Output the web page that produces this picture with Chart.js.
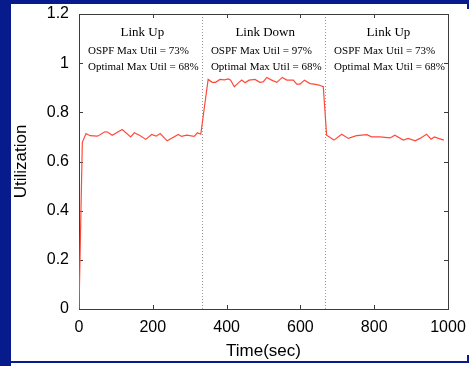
<!DOCTYPE html>
<html>
<head>
<meta charset="utf-8">
<title>Utilization</title>
<script src="https://cdn.jsdelivr.net/npm/chart.js@4/dist/chart.umd.min.js"></script>
<style>
  body { margin: 0; background: #071b8c; width: 469px; height: 366px; overflow: hidden; position: relative; }
  .panel { position: absolute; left: 11px; top: 4px; width: 458px; height: 362px; background: #fff; }
  .rule { position: absolute; background: #071b8c; }
  #utilChart { position: absolute; left: 0; top: 0; }
</style>
</head>
<body>
<div class="panel"></div>
<div class="rule" style="left:11px; top:361px; width:457px; height:2px;"></div>
<div class="rule" style="left:467px; top:4px; width:2px; height:5px;"></div>
<div class="rule" style="left:467px; top:355px; width:2px; height:8px;"></div>
<canvas id="utilChart" width="469" height="366"></canvas>
<script>
// time (sec) and link utilization samples
const timeSec = [
    0, 9, 19, 30, 50, 70, 77, 90, 117, 140, 150, 165, 181, 197, 209, 220, 239, 269, 278, 292, 312, 321, 330,
    350, 361, 370, 382, 394, 405, 411, 421, 432, 441, 450, 461, 477, 490, 499, 509, 522, 536, 551, 563, 581, 590, 599, 611, 626, 637, 650, 662,
    671, 691, 712, 730, 752, 780, 793, 816, 843, 856, 879, 892, 911, 924, 942, 954, 963, 974, 989
];
const utilization = [
    0, 0.678, 0.714, 0.705, 0.703, 0.721, 0.72, 0.707, 0.73, 0.70, 0.717, 0.706, 0.69, 0.71, 0.703, 0.714, 0.684, 0.71, 0.702, 0.707, 0.702, 0.717, 0.711,
    0.934, 0.922, 0.922, 0.934, 0.932, 0.936, 0.931, 0.904, 0.92, 0.931, 0.92, 0.931, 0.934, 0.922, 0.924, 0.942, 0.931, 0.922, 0.942, 0.931, 0.931, 0.915, 0.915, 0.931, 0.917, 0.915, 0.911, 0.904,
    0.707, 0.687, 0.711, 0.694, 0.705, 0.709, 0.70, 0.70, 0.696, 0.707, 0.687, 0.694, 0.684, 0.694, 0.711, 0.691, 0.70, 0.694, 0.687
];

// phases of the experiment
const phaseStart = [0, 333, 667];
const phaseNames = ['Link Up', 'Link Down', 'Link Up'];
const ospfMaxUtil = [73, 97, 73];
const optimalMaxUtil = [68, 68, 68];

const xTicks = [0, 200, 400, 600, 800, 1000];
const yTicks = [0, 0.2, 0.4, 0.6, 0.8, 1, 1.2];

const points = timeSec.map((t, i) => ({ x: t, y: utilization[i] }));

// frame, inward ticks, phase separators and phase notes :
const framePlugin = {
    id: 'frame',
    beforeDatasetsDraw(chart) {
        const ctx = chart.ctx;
        const a = chart.chartArea;
        const xs = chart.scales.x;
        const ys = chart.scales.y;
        ctx.save();

        // dotted separators
        ctx.strokeStyle = '#9a9a9a';
        ctx.lineWidth = 1;
        ctx.setLineDash([1, 2]);
        phaseStart.slice(1).forEach(t => {
            const px = Math.round(xs.getPixelForValue(t)) + 0.5;
            ctx.beginPath();
            ctx.moveTo(px, a.top);
            ctx.lineTo(px, a.bottom);
            ctx.stroke();
        });
        ctx.setLineDash([]);

        // box
        ctx.strokeStyle = '#3c3c3c';
        ctx.strokeRect(Math.round(a.left) + 0.5, Math.round(a.top) + 0.5,
            Math.round(a.right - a.left), Math.round(a.bottom - a.top));

        // ticks on all four sides
        const len = 4;
        ctx.beginPath();
        xTicks.slice(1, -1).forEach(v => {
            const px = Math.round(xs.getPixelForValue(v)) + 0.5;
            ctx.moveTo(px, a.bottom); ctx.lineTo(px, a.bottom - len);
            ctx.moveTo(px, a.top); ctx.lineTo(px, a.top + len);
        });
        yTicks.slice(1, -1).forEach(v => {
            const py = Math.round(ys.getPixelForValue(v)) + 0.5;
            ctx.moveTo(a.left, py); ctx.lineTo(a.left + len, py);
            ctx.moveTo(a.right, py); ctx.lineTo(a.right - len, py);
        });
        ctx.stroke();

        // notes for each phase
        ctx.fillStyle = '#000';
        ctx.textBaseline = 'alphabetic';
        phaseStart.forEach((t, i) => {
            const left = xs.getPixelForValue(t) + 9;
            const line2 = 'OSPF Max Util = ' + ospfMaxUtil[i] + '%';
            const line3 = 'Optimal Max Util = ' + optimalMaxUtil[i] + '%';
            ctx.font = '11px "Liberation Serif", "Times New Roman", serif';
            const w = ctx.measureText(line3).width;
            ctx.textAlign = 'left';
            ctx.fillText(line2, left, a.top + 39.5);
            ctx.fillText(line3, left, a.top + 55.5);
            ctx.font = '13px "Liberation Serif", "Times New Roman", serif';
            ctx.textAlign = 'center';
            ctx.fillText(phaseNames[i], left + w / 2 - 1, a.top + 22);
        });
        ctx.restore();
    }
};

const sans = '"Liberation Sans", Arial, Helvetica, sans-serif';

new Chart(document.getElementById('utilChart'), {
    type: 'line',
    data: {
        datasets: [{
            data: points,
            borderColor: '#ff4a3a',
            borderWidth: 1.2,
            pointRadius: 0,
            tension: 0,
            fill: false
        }]
    },
    options: {
        responsive: false,
        animation: false,
        layout: { padding: { left: 0, right: 21, top: 14, bottom: 0 } },
        plugins: { legend: { display: false }, tooltip: { enabled: false } },
        scales: {
            x: {
                type: 'linear',
                min: 0,
                max: 1000,
                afterFit: scale => {
                    scale.height = 57;
                    scale.paddingLeft = 0;
                    scale.paddingRight = 0;
                },
                afterBuildTicks: scale => { scale.ticks = xTicks.map(v => ({ value: v })); },
                grid: { display: false, drawTicks: false },
                border: { display: false },
                ticks: { color: '#000', padding: 9, maxRotation: 0, callback: v => String(v), font: { family: sans, size: 16 } },
                title: { display: true, text: 'Time(sec)', color: '#000', padding: { top: 0, bottom: 4 }, font: { family: sans, size: 17 } }
            },
            y: {
                min: 0,
                max: 1.2,
                afterFit: scale => {
                    scale.width = 79;
                    scale.paddingTop = 0;
                    scale.paddingBottom = 0;
                },
                afterBuildTicks: scale => { scale.ticks = yTicks.map(v => ({ value: v })); },
                grid: { display: false, drawTicks: false },
                border: { display: false },
                ticks: { color: '#000', padding: 10, callback: v => String(v), font: { family: sans, size: 16 } },
                title: { display: true, text: 'Utilization', color: '#000', padding: { top: 11, bottom: 0 }, font: { family: sans, size: 17 } }
            }
        }
    },
    plugins: [framePlugin]
});
</script>
</body>
</html>
